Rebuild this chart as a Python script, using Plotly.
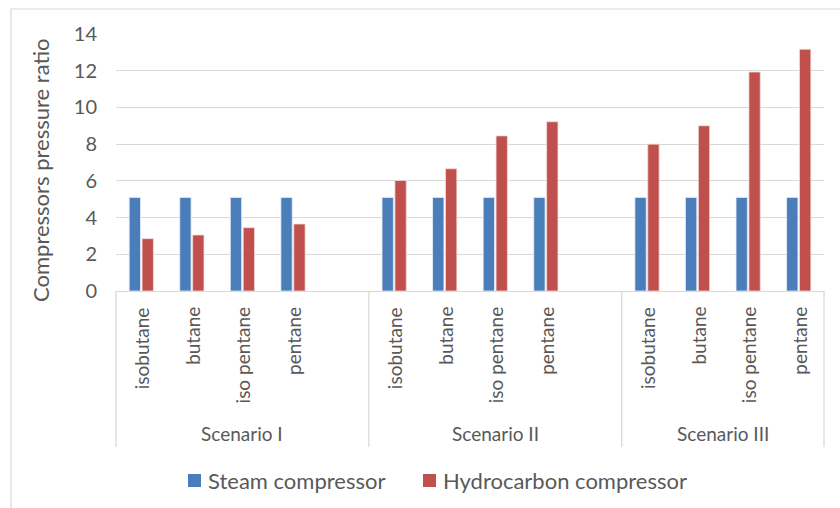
import plotly.graph_objects as go

# Category structure: each scenario group, with the fluids shown under it
scenarios = ["Scenario I", "Scenario II", "Scenario III"]
fluids = ["isobutane", "butane", "iso pentane", "pentane"]
# number of category slots per scenario (I and II carry one blank slot)
slots_per_scenario = [5, 5, 4]

# Compressor pressure ratios, ordered scenario by scenario, fluid by fluid
steam_ratio = [5.1, 5.1, 5.1, 5.1,
               5.1, 5.1, 5.1, 5.1,
               5.1, 5.1, 5.1, 5.1]
hydrocarbon_ratio = [2.85, 3.05, 3.45, 3.65,
                     6.02, 6.66, 8.45, 9.22,
                     8.0, 9.0, 11.93, 13.17]

y_ticks = [0, 2, 4, 6, 8, 10, 12, 14]
y_title = "Compressors pressure ratio"

FONT = "Lato, 'Open Sans', sans-serif"
GREY_TEXT = "#595959"
GRID = "#d9d9d9"
BLUE = "#4a7ebb"
RED = "#c0504d"

# plot area in pixels, used to place paper-referenced decorations
PLOT_L, PLOT_R, PLOT_T, PLOT_B = 116, 824, 34, 291
PW, PH = PLOT_R - PLOT_L, PLOT_B - PLOT_T


def px_x(px):
    return (px - PLOT_L) / PW


def px_y(py):
    return (PLOT_B - py) / PH


# slot index of every bar and of every scenario boundary
x_pos = []
bounds = [-0.5]
start = 0
for n in slots_per_scenario:
    for k in range(len(fluids)):
        x_pos.append(start + k)
    start += n
    bounds.append(start - 0.5)
n_slots = start

fig = go.Figure()
fig.add_trace(go.Bar(x=x_pos, y=steam_ratio, name="Steam compressor",
                     marker=dict(color=BLUE, line=dict(color="#e8eef7", width=0.8))))
fig.add_trace(go.Bar(x=x_pos, y=hydrocarbon_ratio, name="Hydrocarbon compressor",
                     marker=dict(color=RED, line=dict(color="#f4dcdb", width=0.8))))

# fluid names below each bar pair
for i, xp in enumerate(x_pos):
    fig.add_annotation(x=xp, y=0, xref="x", yref="paper", yshift=-14,
                       text=fluids[i % len(fluids)], textangle=-90,
                       showarrow=False, xanchor="center", yanchor="top",
                       font=dict(family=FONT, size=19, color=GREY_TEXT))

# scenario group labels
for s, name in enumerate(scenarios):
    fig.add_annotation(x=(bounds[s] + bounds[s + 1]) / 2, y=0, xref="x", yref="paper",
                       yshift=-142, text=name, showarrow=False,
                       xanchor="center", yanchor="middle",
                       font=dict(family=FONT, size=19, color=GREY_TEXT))

# value axis title
fig.add_annotation(x=px_x(40), y=px_y(171), xref="paper", yref="paper",
                   text=y_title, textangle=-90, showarrow=False,
                   xanchor="center", yanchor="middle",
                   font=dict(family=FONT, size=22, color=GREY_TEXT))

shapes = []
# group separators running down through the label area
for b in bounds:
    xp = (b + 0.5) / n_slots
    shapes.append(dict(type="line", x0=xp, x1=xp, xref="paper", yref="paper",
                       y0=0, y1=px_y(447), line=dict(color=GRID, width=1.3)))

# chart area outline
shapes.append(dict(type="rect", xref="paper", yref="paper",
                   x0=px_x(11), x1=px_x(900), y0=px_y(600), y1=px_y(9),
                   line=dict(color=GRID, width=1.2), fillcolor="rgba(0,0,0,0)"))

# legend drawn as swatches and labels
legend_items = [("Steam compressor", BLUE, 188), ("Hydrocarbon compressor", RED, 423)]
for label, color, px in legend_items:
    shapes.append(dict(type="rect", xref="paper", yref="paper",
                       x0=px_x(px), x1=px_x(px + 13), y0=px_y(487), y1=px_y(474),
                       fillcolor=color, line=dict(width=0)))
    fig.add_annotation(x=px_x(px + 18), y=px_y(480.5), xref="paper", yref="paper",
                       text=label, showarrow=False, xanchor="left", yanchor="middle",
                       font=dict(family=FONT, size=22, color=GREY_TEXT))

fig.update_layout(
    shapes=shapes,
    width=840, height=508,
    margin=dict(l=PLOT_L, r=840 - PLOT_R, t=PLOT_T, b=508 - PLOT_B),
    paper_bgcolor="white", plot_bgcolor="white",
    barmode="group", bargap=0.49, bargroupgap=0.12,
    showlegend=False,
    font=dict(family=FONT, color=GREY_TEXT),
    xaxis=dict(range=[-0.5, n_slots - 0.5], showticklabels=False, showgrid=False,
               zeroline=False, showline=False, ticks=""),
    yaxis=dict(range=[0, 14], tickvals=y_ticks, showgrid=True, gridcolor=GRID,
               gridwidth=1.3, zeroline=True, zerolinecolor=GRID, zerolinewidth=1.3,
               showline=False, ticks="", ticklabelstandoff=18,
               tickfont=dict(family=FONT, size=20, color=GREY_TEXT)),
)

fig.write_html("out.html")
